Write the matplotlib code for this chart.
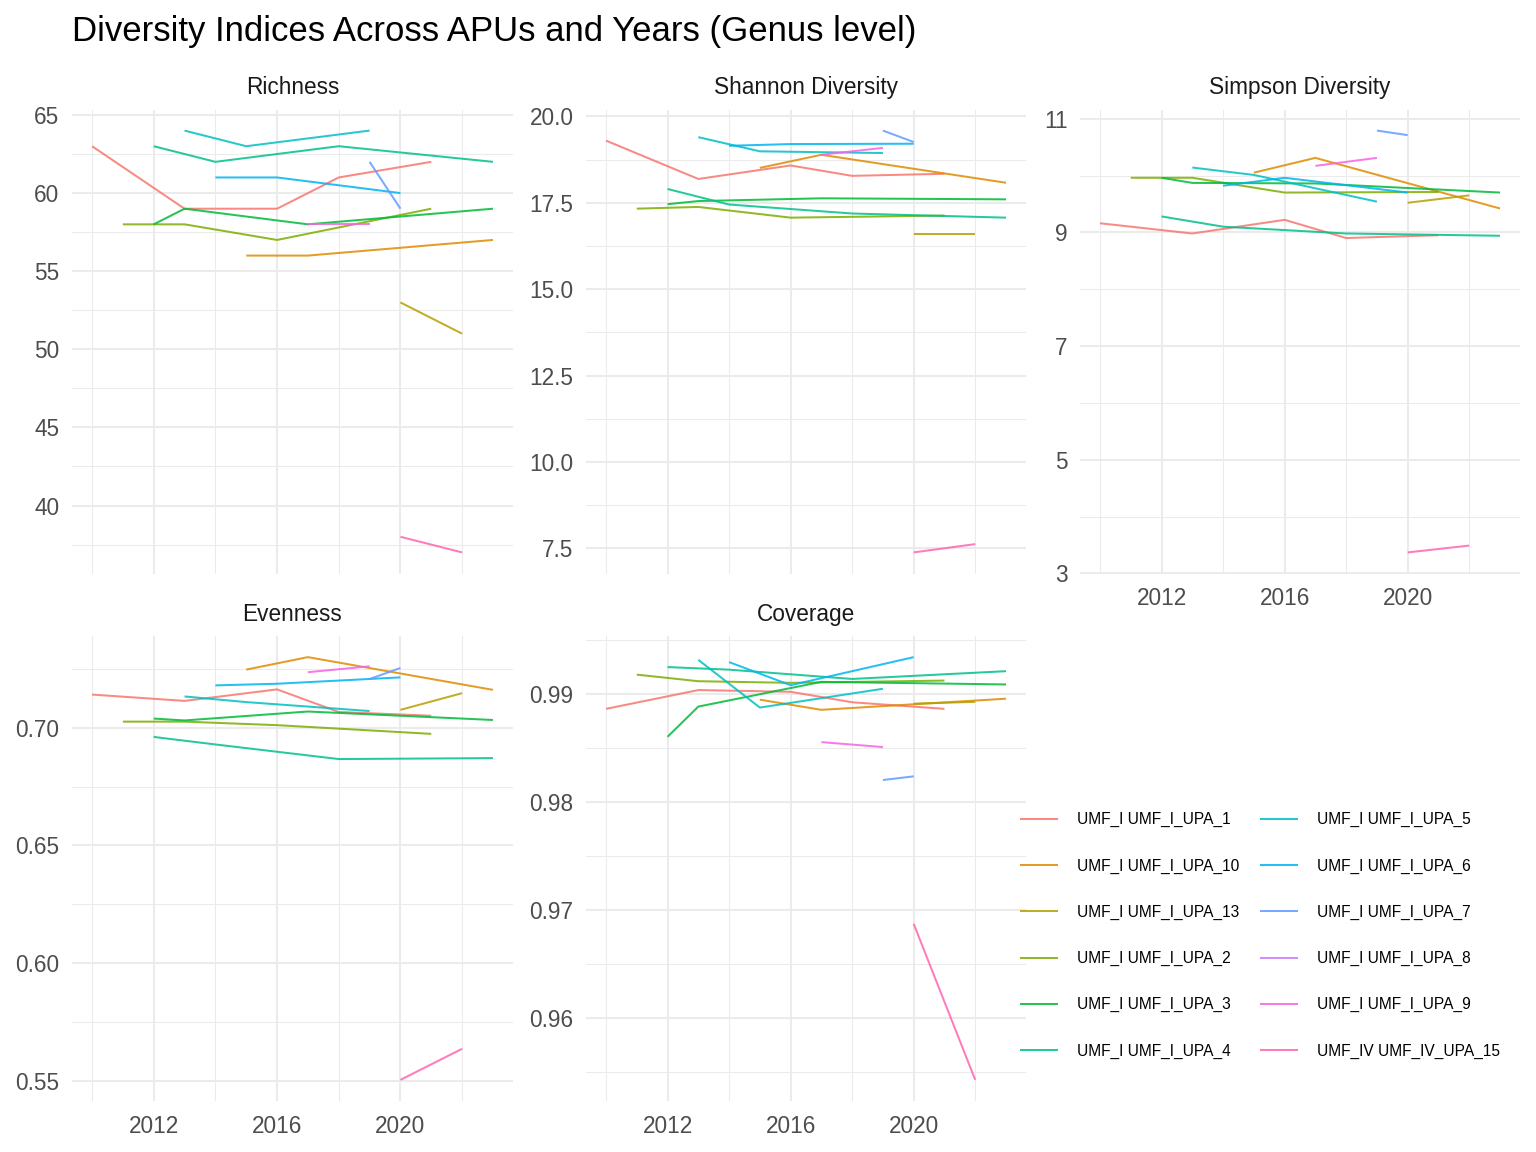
import matplotlib
matplotlib.use("Agg")
import matplotlib.pyplot as plt
from matplotlib.ticker import FixedLocator, FormatStrFormatter
from matplotlib.lines import Line2D

plt.rcParams['font.family'] = ['Liberation Sans', 'DejaVu Sans']

series = ["UMF_I UMF_I_UPA_1", "UMF_I UMF_I_UPA_10", "UMF_I UMF_I_UPA_13",
          "UMF_I UMF_I_UPA_2", "UMF_I UMF_I_UPA_3", "UMF_I UMF_I_UPA_4",
          "UMF_I UMF_I_UPA_5", "UMF_I UMF_I_UPA_6", "UMF_I UMF_I_UPA_7",
          "UMF_I UMF_I_UPA_8", "UMF_I UMF_I_UPA_9", "UMF_IV UMF_IV_UPA_15"]
colors = ["#F8766D", "#DE8C00", "#B79F00", "#7CAE00", "#00BA38", "#00C08B",
          "#00BFC4", "#00B4F0", "#619CFF", "#C77CFF", "#F564E3", "#FF64B0"]

years = [
    [2010, 2013, 2016, 2018, 2021],
    [2015, 2017, 2023],
    [2020, 2022],
    [2011, 2013, 2016, 2021],
    [2012, 2013, 2017, 2023],
    [2012, 2014, 2018, 2023],
    [2013, 2015, 2019],
    [2014, 2016, 2020],
    [2019, 2020],
    [],
    [2017, 2019],
    [2020, 2022],
]
richness = [
    [63, 59, 59, 61, 62], [56, 56, 57], [53, 51], [58, 58, 57, 59],
    [58, 59, 58, 59], [63, 62, 63, 62], [64, 63, 64], [61, 61, 60],
    [62, 59], [], [58, 58], [38, 37],
]
shannon = [
    [19.30, 18.19, 18.58, 18.28, 18.34], [18.51, 18.89, 18.08], [16.61, 16.61],
    [17.33, 17.38, 17.07, 17.13], [17.46, 17.55, 17.63, 17.60],
    [17.90, 17.45, 17.19, 17.07], [19.40, 18.99, 18.94], [19.15, 19.20, 19.21],
    [19.59, 19.26], [], [18.89, 19.09], [7.38, 7.62],
]
simpson = [
    [9.16, 8.98, 9.22, 8.90, 8.95], [10.05, 10.31, 9.42], [9.52, 9.65],
    [9.96, 9.96, 9.70, 9.71], [9.96, 9.87, 9.86, 9.70],
    [9.28, 9.10, 8.98, 8.94], [10.14, 10.01, 9.54], [9.82, 9.96, 9.70],
    [10.79, 10.71], [], [10.17, 10.31], [3.37, 3.49],
]
evenness = [
    [0.7141, 0.7114, 0.7163, 0.7067, 0.7051], [0.7247, 0.7300, 0.7161],
    [0.7076, 0.7147], [0.7026, 0.7026, 0.7011, 0.6974],
    [0.7039, 0.7031, 0.7069, 0.7033], [0.6961, 0.6929, 0.6867, 0.6871],
    [0.7133, 0.7109, 0.7071], [0.7180, 0.7187, 0.7214], [0.7207, 0.7254],
    [], [0.7236, 0.7261], [0.5504, 0.5636],
]
coverage = [
    [0.98866, 0.9904, 0.99024, 0.98927, 0.98866], [0.98951, 0.98857, 0.9896],
    [0.98914, 0.98931], [0.99183, 0.99122, 0.99107, 0.99128],
    [0.98607, 0.98887, 0.99116, 0.99092], [0.99253, 0.99229, 0.99143, 0.99215],
    [0.9932, 0.98878, 0.99052], [0.99299, 0.99085, 0.99345], [0.98207, 0.98241],
    [], [0.98558, 0.98512], [0.96875, 0.9543],
]

panel_titles = ["Richness", "Shannon Diversity", "Simpson Diversity", "Evenness", "Coverage"]
panel_data = [richness, shannon, simpson, evenness, coverage]
y_major = [[40, 45, 50, 55, 60, 65], [7.5, 10.0, 12.5, 15.0, 17.5, 20.0],
           [3, 5, 7, 9, 11], [0.55, 0.60, 0.65, 0.70], [0.96, 0.97, 0.98, 0.99]]
y_minor = [[37.5, 42.5, 47.5, 52.5, 57.5, 62.5],
           [8.75, 11.25, 13.75, 16.25, 18.75],
           [4, 6, 8, 10],
           [0.575, 0.625, 0.675, 0.725],
           [0.955, 0.965, 0.975, 0.985, 0.995]]
y_fmt = ["%d", "%.1f", "%d", "%.2f", "%.2f"]
x_major = [2012, 2016, 2020]
x_minor = [2010, 2014, 2018, 2022]

W, H = 1536, 1152
fig = plt.figure(figsize=(W / 100, H / 100), dpi=100)

def px_axes(x0, y0, x1, y1, **kw):
    return fig.add_axes([x0 / W, 1 - y1 / H, (x1 - x0) / W, (y1 - y0) / H], **kw)

cols = [(72, 513), (586, 1026), (1080, 1520)]
rows = [(109.5, 573.5), (636, 1101)]
positions = [(0, 0), (0, 1), (0, 2), (1, 0), (1, 1)]

axes = []
first = None
for i, (r, c) in enumerate(positions):
    x0, x1 = cols[c]
    y0, y1 = rows[r]
    ax = px_axes(x0, y0, x1, y1, sharex=first) if first else px_axes(x0, y0, x1, y1)
    if first is None:
        first = ax
    axes.append(ax)

grey92 = "#EBEBEB"
for i, ax in enumerate(axes):
    data = panel_data[i]
    for k in range(len(series)):
        if len(years[k]) > 0:
            ax.plot(years[k], data[k], color=colors[k], lw=1.45, alpha=0.85,
                    solid_capstyle='butt', zorder=3)
    ax.margins(x=0.05, y=0.05)
    for s in ax.spines.values():
        s.set_visible(False)
    ax.set_facecolor("white")
    ax.yaxis.set_major_locator(FixedLocator(y_major[i]))
    ax.yaxis.set_minor_locator(FixedLocator(y_minor[i]))
    ax.yaxis.set_major_formatter(FormatStrFormatter(y_fmt[i]))
    ax.xaxis.set_major_locator(FixedLocator(x_major))
    ax.xaxis.set_minor_locator(FixedLocator(x_minor))
    ax.grid(which='major', color=grey92, lw=1.5, zorder=0)
    ax.grid(which='minor', color=grey92, lw=0.75, zorder=0)
    ax.set_axisbelow(True)
    ax.tick_params(which='both', length=0, labelsize=16.3, labelcolor="#4D4D4D")
    ax.tick_params(axis='y', pad=9)
    ax.tick_params(axis='x', pad=10)
    ax.set_title(panel_titles[i], fontsize=16.3, color="#1A1A1A", pad=11)
    if i in (0, 1):
        ax.tick_params(axis='x', labelbottom=False)

for ax in axes:
    ax.autoscale_view()

fig.text(72 / W, 1 - 32 / H, "Diversity Indices Across APUs and Years (Genus level)",
         fontsize=25, color="black", ha='left', va='center')

handles = [Line2D([0], [0], color=colors[k], lw=1.45, alpha=0.85) for k in range(len(series))]
fig.legend(handles, series, ncol=2, loc='center left',
           bbox_to_anchor=(1021 / W, 1 - 935.5 / H), frameon=False,
           fontsize=11.2, handlelength=2.3, handletextpad=1.3,
           columnspacing=1.4, labelspacing=2.0, borderpad=0, borderaxespad=0)

fig.savefig("out.png", dpi=100, facecolor="white")
